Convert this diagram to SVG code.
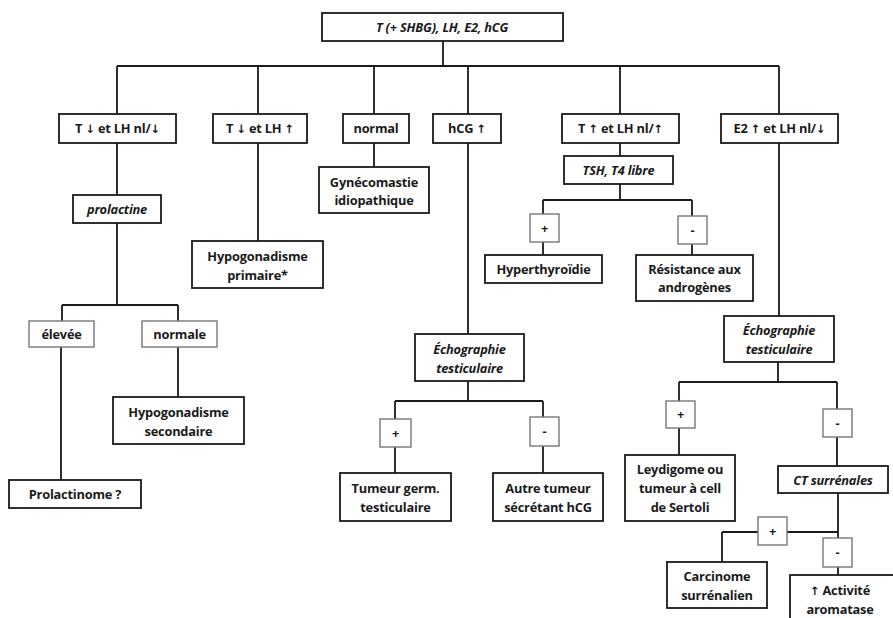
<svg xmlns="http://www.w3.org/2000/svg" width="893" height="618" viewBox="0 0 893 618">
<style>
.b{fill:#fff;stroke:#1a1a1a;stroke-width:1.8}
.s{fill:#fff;stroke:#777;stroke-width:1.4}
.t{font-family:"Open Sans","Liberation Sans","DejaVu Sans",sans-serif;font-size:12.8px;font-weight:bold;fill:#1a1a1a;text-anchor:middle;letter-spacing:-0.2px}
.i{font-style:italic}
.a{font-family:"DejaVu Sans",sans-serif;font-weight:bold;font-size:11.5px;fill:#1a1a1a}
.c{fill:none;stroke:#1a1a1a;stroke-width:1.8}
</style>
<rect width="893" height="618" fill="#fff"/>
<g id="connectors" class="c">
<path d="M443 41V66M117 66H779M117 66V114M258 66V114M374 66V114M468 66V114M620 66V114M779 66V114"/>
<path d="M117 143V195M117 223V305M62 305H178M62 305V321M178 305V321M61 347V480M178 347V397"/>
<path d="M258 143V241M374 143V167"/>
<path d="M468 143V334M468 381V401M395 401H543M395 401V419M395 447V473M543 401V417M543 446V473"/>
<path d="M620 143V156M620 184V200M543 200H692M543 200V214M543 242V255M692 200V216M692 244V255"/>
<path d="M779 143V316M778 362V382M679 382H837M679 382V401M679 428V455M837 382V409M837 437V466M838 493V538M722 532H758M787 532H838M722 532V562M838 567V575"/>
</g>
<g id="n-top"><rect class="b" x="322" y="13" width="241" height="28"/><text class="t i" x="442" y="32">T (+ SHBG), LH, E2, hCG</text></g>
<g id="n-b1"><rect class="b" x="59" y="114" width="117" height="29"/><text class="t" x="117.5" y="133">T <tspan class="a">↓</tspan> et LH nl/<tspan class="a">↓</tspan></text></g>
<g id="n-b2"><rect class="b" x="213" y="114" width="94" height="29"/><text class="t" x="260" y="133">T <tspan class="a">↓</tspan> et LH <tspan class="a">↑</tspan></text></g>
<g id="n-b3"><rect class="b" x="343" y="114" width="66" height="29"/><text class="t" x="376" y="133">normal</text></g>
<g id="n-b4"><rect class="b" x="433" y="114" width="68" height="29"/><text class="t" x="467" y="133">hCG <tspan class="a">↑</tspan></text></g>
<g id="n-b5"><rect class="b" x="562" y="114" width="117" height="29"/><text class="t" x="620.5" y="133">T <tspan class="a">↑</tspan> et LH nl/<tspan class="a">↑</tspan></text></g>
<g id="n-b6"><rect class="b" x="721" y="114" width="117" height="29"/><text class="t" x="779.5" y="133">E2 <tspan class="a">↑</tspan> et LH nl/<tspan class="a">↓</tspan></text></g>
<g id="n-prolactine"><rect class="b" x="73" y="195" width="88" height="28"/><text class="t i" x="117" y="214">prolactine</text></g>
<g id="n-gyneco"><rect class="b" x="319" y="167" width="110" height="46"/><text class="t" x="374" y="187">Gynécomastie</text><text class="t" x="374" y="205">idiopathique</text></g>
<g id="n-hypoprim"><rect class="b" x="192" y="241" width="131" height="47"/><text class="t" x="257.5" y="261">Hypogonadisme</text><text class="t" x="257.5" y="280">primaire*</text></g>
<g id="n-elevee"><rect class="s" x="29" y="321" width="65" height="26"/><text class="t" x="61.5" y="339">élevée</text></g>
<g id="n-normale"><rect class="s" x="142" y="321" width="75" height="26"/><text class="t" x="179.5" y="339">normale</text></g>
<g id="n-prolactinome"><rect class="b" x="9" y="480" width="132" height="28"/><text class="t" x="75" y="499">Prolactinome ?</text></g>
<g id="n-hyposec"><rect class="b" x="113" y="397" width="131" height="47"/><text class="t" x="178.5" y="417">Hypogonadisme</text><text class="t" x="178.5" y="436">secondaire</text></g>
<g id="n-echo1"><rect class="b" x="415" y="334" width="109" height="47"/><text class="t i" x="469.5" y="354">Échographie</text><text class="t i" x="469.5" y="373">testiculaire</text></g>
<g id="n-plus1"><rect class="s" x="380" y="419" width="31" height="28"/><text class="t" x="395.5" y="438">+</text></g>
<g id="n-minus1"><rect class="s" x="530" y="417" width="29" height="29"/><text class="t" x="544.5" y="436">-</text></g>
<g id="n-tumeurgerm"><rect class="b" x="340" y="473" width="111" height="48"/><text class="t" x="395.5" y="493">Tumeur germ.</text><text class="t" x="395.5" y="512">testiculaire</text></g>
<g id="n-autretumeur"><rect class="b" x="493" y="473" width="110" height="48"/><text class="t" x="548" y="493">Autre tumeur</text><text class="t" x="548" y="512">sécrétant hCG</text></g>
<g id="n-tsh"><rect class="b" x="564" y="156" width="109" height="28"/><text class="t i" x="618.5" y="175">TSH, T4 libre</text></g>
<g id="n-plus2"><rect class="s" x="530" y="214" width="29" height="28"/><text class="t" x="544.5" y="233">+</text></g>
<g id="n-minus2"><rect class="s" x="678" y="216" width="29" height="28"/><text class="t" x="692.5" y="235">-</text></g>
<g id="n-hyperthyroidie"><rect class="b" x="485" y="255" width="117" height="28"/><text class="t" x="543.5" y="274">Hyperthyroïdie</text></g>
<g id="n-resistance"><rect class="b" x="636" y="255" width="117" height="46"/><text class="t" x="694.5" y="274">Résistance aux</text><text class="t" x="694.5" y="292">androgènes</text></g>
<g id="n-echo2"><rect class="b" x="724" y="316" width="110" height="46"/><text class="t i" x="779" y="335">Échographie</text><text class="t i" x="779" y="354">testiculaire</text></g>
<g id="n-plus3"><rect class="s" x="666" y="401" width="29" height="27"/><text class="t" x="680.5" y="419">+</text></g>
<g id="n-minus3"><rect class="s" x="823" y="409" width="29" height="28"/><text class="t" x="837.5" y="428">-</text></g>
<g id="n-leydigome"><rect class="b" x="625" y="455" width="110" height="66"/><text class="t" x="680" y="474">Leydigome ou</text><text class="t" x="680" y="493">tumeur à cell</text><text class="t" x="680" y="512">de Sertoli</text></g>
<g id="n-ct"><rect class="b" x="778" y="466" width="110" height="27"/><text class="t i" x="833" y="485">CT surrénales</text></g>
<g id="n-plus4"><rect class="s" x="758" y="517" width="29" height="28"/><text class="t" x="772.5" y="536">+</text></g>
<g id="n-minus4"><rect class="s" x="823" y="538" width="29" height="29"/><text class="t" x="837.5" y="557">-</text></g>
<g id="n-carcinome"><rect class="b" x="667" y="562" width="100" height="46"/><text class="t" x="717" y="581">Carcinome</text><text class="t" x="717" y="600">surrénalien</text></g>
<g id="n-aromatase"><rect class="b" x="790" y="575" width="110" height="60"/><text class="t" x="840" y="595"><tspan class="a">↑</tspan> Activité</text><text class="t" x="840" y="614">aromatase</text></g>
</svg>
